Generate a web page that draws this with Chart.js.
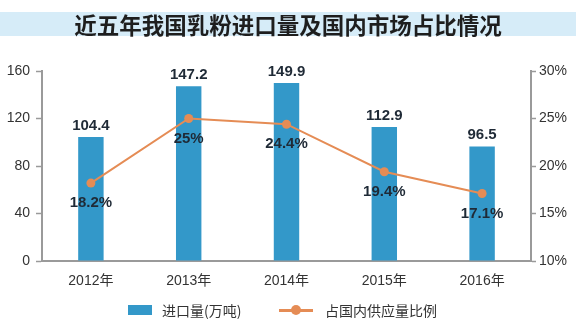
<!DOCTYPE html>
<html>
<head>
<meta charset="utf-8">
<script src="https://cdn.jsdelivr.net/npm/chart.js@4"></script>
<style>
  body { margin: 0; background: #fff; font-family: "Liberation Sans", "Noto Sans CJK SC", sans-serif; }
  #wrap { position: relative; width: 576px; height: 328px; overflow: hidden; }
  #title {
    position: absolute; left: 0; top: 12px; width: 576px; height: 24px;
    background: #d6ecf8; color: #1e1e1e; text-align: center;
    font: bold 22.5px/24px "Noto Sans CJK SC", sans-serif;
  }
  #chartBox { position: absolute; left: 0; top: 0; width: 576px; height: 328px; }
  #legend {
    position: absolute; top: 301px; left: 0; width: 576px; height: 18px;
    font: 14px/18px "Noto Sans CJK SC", sans-serif; color: #333;
  }
  .lg { position: absolute; top: 0; white-space: nowrap; }
  .sw-bar { position: absolute; width: 24px; height: 10px; background: #3398c9; top: 4px; }
  .sw-line { position: absolute; width: 34px; height: 3px; background: #e58c55; top: 8px; }
  .sw-dot { position: absolute; width: 10px; height: 10px; border-radius: 5px; background: #e58c55; top: 4px; }
</style>
</head>
<body>
<div id="wrap">
  <div id="chartBox"><canvas id="c" width="576" height="328"></canvas></div>
  <div id="title">近五年我国乳粉进口量及国内市场占比情况</div>
  <div id="legend">
    <span class="sw-bar" style="left:128px"></span>
    <span class="lg" style="left:162px">进口量(万吨)</span>
    <span class="sw-line" style="left:279px"></span>
    <span class="sw-dot" style="left:291px"></span>
    <span class="lg" style="left:325px">占国内供应量比例</span>
  </div>
</div>
<script>
// data
const years = ['2012年', '2013年', '2014年', '2015年', '2016年'];
const imports = [104.4, 147.2, 149.9, 112.9, 96.5];     // 万吨
const share = [18.2, 25, 24.4, 19.4, 17.1];             // %
const leftTicks = [0, 40, 80, 120, 160];
const rightTicks = [10, 15, 20, 25, 30];

const BLUE = '#3398c9';
const ORANGE = '#e58c55';
const AXIS = '#9a9a9a';
const TICK_FONT = { family: '"Liberation Sans", "Noto Sans CJK SC", sans-serif', size: 14 };

// value labels: above bars, below line points
const valueLabels = {
  id: 'valueLabels',
  afterDatasetsDraw(chart) {
    const ctx = chart.ctx;
    ctx.save();
    ctx.font = 'bold 15px "Liberation Sans", sans-serif';
    ctx.textAlign = 'center';
    ctx.fillStyle = '#1f2a36';
    chart.getDatasetMeta(1).data.forEach((el, i) => {
      ctx.textBaseline = 'bottom';
      ctx.fillText(String(imports[i]), el.x, el.y - 4);
    });
    chart.getDatasetMeta(0).data.forEach((el, i) => {
      ctx.textBaseline = 'middle';
      ctx.fillText(share[i] + '%', el.x, el.y + 20);
    });
    ctx.restore();
  }
};

new Chart(document.getElementById('c'), {
  data: {
    labels: years,
    datasets: [
      {
        type: 'line', label: '占国内供应量比例', data: share, yAxisID: 'yR',
        borderColor: ORANGE, backgroundColor: ORANGE, borderWidth: 2,
        pointRadius: 4.5, pointHoverRadius: 4.5, pointBorderWidth: 0, tension: 0, order: 0
      },
      {
        type: 'bar', label: '进口量(万吨)', data: imports, yAxisID: 'yL',
        backgroundColor: BLUE, barPercentage: 0.26, categoryPercentage: 1, order: 1
      }
    ]
  },
  options: {
    responsive: false, animation: false,
    layout: { padding: { top: 71, left: 0, right: 0, bottom: 0 } },
    plugins: { legend: { display: false }, tooltip: { enabled: false } },
    scales: {
      x: {
        offset: true,
        grid: { display: false },
        border: { color: AXIS, width: 2 },
        ticks: { color: '#333', font: TICK_FONT, padding: 4 },
        afterFit: s => { s.height = 67; }
      },
      yL: {
        position: 'left', min: 0, max: 160,
        afterBuildTicks: s => { s.ticks = leftTicks.map(v => ({ value: v })); },
        grid: { drawOnChartArea: false, color: AXIS, tickLength: 6, tickWidth: 1.5 },
        border: { color: AXIS, width: 2 },
        ticks: { color: '#333', font: TICK_FONT, padding: 6 },
        afterFit: s => { s.width = 42; }
      },
      yR: {
        position: 'right', min: 10, max: 30,
        afterBuildTicks: s => { s.ticks = rightTicks.map(v => ({ value: v })); },
        grid: { drawOnChartArea: false, color: AXIS, tickLength: 5, tickWidth: 1.5 },
        border: { color: AXIS, width: 2 },
        ticks: { color: '#333', font: TICK_FONT, padding: 3, callback: v => v + '%' },
        afterFit: s => { s.width = 45; }
      }
    }
  },
  plugins: [valueLabels]
});
</script>
</body>
</html>
